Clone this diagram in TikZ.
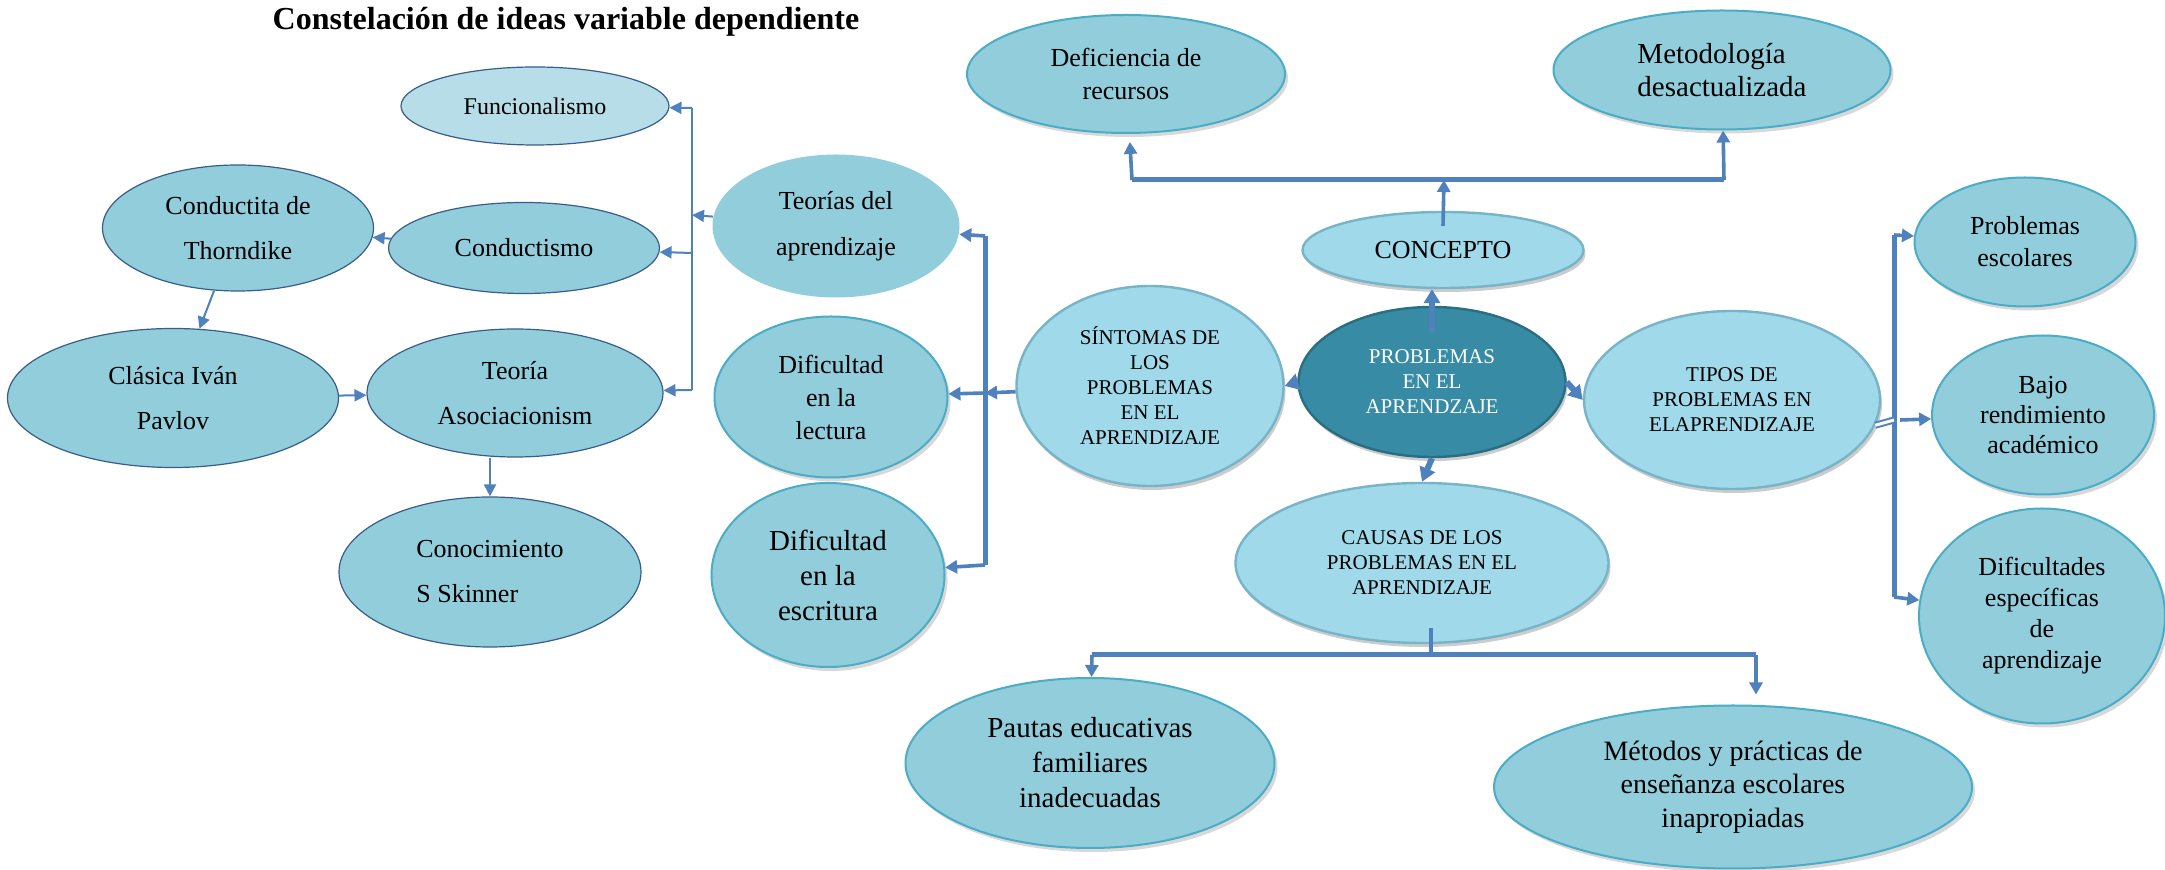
\documentclass[tikz,border=0pt]{standalone}
\usepackage{fontspec}
\setmainfont{Liberation Serif}
\usetikzlibrary{shapes.geometric, arrows.meta, calc, shadows}

\definecolor{linkblue}{HTML}{4F81BD}
\definecolor{aqua}{HTML}{92CDDC}
\definecolor{aqualight}{HTML}{B7DEE8}
\definecolor{aquaedge}{HTML}{4BACC6}
\definecolor{navyedge}{HTML}{385D8A}
\definecolor{bubble}{HTML}{A0D9EA}
\definecolor{bubbledark}{HTML}{78B4C8}
\definecolor{coreteal}{HTML}{378BA4}
\definecolor{coredark}{HTML}{2A6E82}

\tikzset{
    leftnode/.style={ellipse, draw=navyedge, line width=0.6pt, fill=aqua, inner sep=0pt, align=center, font=\fontsize{13}{22.5}\selectfont},
    rightnode/.style={ellipse, draw=aquaedge, line width=1pt, fill=aqua, inner sep=0pt, align=center, font=\fontsize{13}{16.5}\selectfont, drop shadow={opacity=0.3, shadow xshift=1.5pt, shadow yshift=-2pt}},
    bubblenode/.style={ellipse, draw=bubbledark, line width=1.2pt, fill=bubble, inner sep=0pt, align=center, font=\fontsize{10.5}{12.5}\selectfont, drop shadow={opacity=0.4, shadow xshift=1pt, shadow yshift=-2pt}},
    corenode/.style={ellipse, draw=coredark, line width=1.2pt, fill=coreteal, text=white, inner sep=0pt, align=center, font=\fontsize{10.5}{12.5}\selectfont, drop shadow={opacity=0.4, shadow xshift=1pt, shadow yshift=-2pt}},
    thinline/.style={draw=linkblue, line width=1pt},
    thinarr/.style={thinline, -{Triangle[length=6pt, width=6pt]}},
    fatline/.style={draw=linkblue, line width=2.5pt},
    midline/.style={draw=linkblue, line width=1.8pt},
    midarr/.style={midline, -{Triangle[length=6pt, width=6.5pt]}},
    corearr/.style={draw=linkblue, line width=3pt, -{Triangle[length=7pt, width=8pt]}},
    doubleline/.style={draw=linkblue, double=white, double distance=1.5pt, line width=1pt}
}

\begin{document}
\begin{tikzpicture}[x=0.5pt, y=-0.5pt]
    \useasboundingbox (0,0) rectangle (2165,870);
    \fill [white] (0,0) rectangle (2165,870);

    \node [font=\bfseries\fontsize{16}{19}\selectfont] (Titulo) at (566,22) {Constelación de ideas variable dependiente};

    \node [leftnode, fill=aqualight, minimum width=134pt, minimum height=39pt, font=\fontsize{12}{14}\selectfont] (Funcionalismo) at (535,106) {Funcionalismo};
    \node [leftnode, minimum width=135.5pt, minimum height=63pt] (Conductita) at (238,228) {Conductita de\\Thorndike};
    \node [leftnode, minimum width=135.5pt, minimum height=45.5pt] (Conductismo) at (524,248) {Conductismo};
    \node [leftnode, draw=none, minimum width=123.5pt, minimum height=71.5pt, font=\fontsize{13}{23}\selectfont] (Teorias) at (836,226) {Teorías del\\aprendizaje};
    \node [leftnode, minimum width=165.5pt, minimum height=69.5pt] (Pavlov) at (173,398) {Clásica Iván\\Pavlov};
    \node [leftnode, minimum width=148pt, minimum height=64pt] (Teoria) at (515,393) {Teoría\\Asociacionism};
    \node [leftnode, minimum width=151pt, minimum height=75pt, align=left] (Conocimiento) at (490,572) {Conocimiento\\S Skinner};

    \node [rightnode, minimum width=116.5pt, minimum height=80.5pt] (Lectura) at (831,397) {Dificultad\\en la\\lectura};
    \node [rightnode, minimum width=116.5pt, minimum height=92pt, font=\fontsize{14.5}{17.5}\selectfont] (Escritura) at (828,575) {Dificultad\\en la\\escritura};

    \node [rightnode, minimum width=159pt, minimum height=59pt] (Deficiencia) at (1126,74) {Deficiencia de\\recursos};
    \node [rightnode, minimum width=168.5pt, minimum height=59.5pt, align=left, font=\fontsize{14.5}{16.5}\selectfont] (Metodologia) at (1722,70) {Metodología\\desactualizada};

    \node [bubblenode, minimum width=140.5pt, minimum height=38pt, font=\fontsize{13}{15}\selectfont] (Concepto) at (1443,250) {CONCEPTO};
    \node [bubblenode, minimum width=133.5pt, minimum height=100pt] (Sintomas) at (1150,386) {SÍNTOMAS DE\\LOS\\PROBLEMAS\\EN EL\\APRENDIZAJE};
    \node [corenode, minimum width=133.5pt, minimum height=75pt] (Problemas) at (1432,382) {PROBLEMAS\\EN EL\\APRENDZAJE};
    \node [bubblenode, minimum width=148pt, minimum height=89pt] (Tipos) at (1732,400) {TIPOS DE\\PROBLEMAS EN\\ELAPRENDIZAJE};
    \node [bubblenode, minimum width=186.5pt, minimum height=80pt] (Causas) at (1422,563) {CAUSAS DE LOS\\PROBLEMAS EN EL\\APRENDIZAJE};

    \node [rightnode, minimum width=110.5pt, minimum height=64.5pt, font=\fontsize{13}{16}\selectfont] (Escolares) at (2025,242) {Problemas\\escolares};
    \node [rightnode, minimum width=111pt, minimum height=79.5pt, font=\fontsize{13}{15}\selectfont] (Bajo) at (2043,415) {Bajo\\rendimiento\\académico};
    \node [rightnode, minimum width=123pt, minimum height=107.5pt, font=\fontsize{13}{15.5}\selectfont] (Especificas) at (2042,616) {Dificultades\\específicas\\de\\aprendizaje};

    \node [rightnode, minimum width=184.5pt, minimum height=85pt, font=\fontsize{14.5}{17.5}\selectfont] (Pautas) at (1090,763) {Pautas educativas\\familiares\\inadecuadas};
    \node [rightnode, minimum width=239pt, minimum height=81.5pt, font=\fontsize{14}{16.7}\selectfont] (Metodos) at (1733,787) {Métodos y prácticas de\\enseñanza escolares\\inapropiadas};

    \coordinate (LV1) at (692,108);
    \coordinate (LVT) at (692,215);
    \coordinate (LVC) at (692,253);
    \coordinate (LV2) at (692,390);
    \draw [thinline] (LV1) -- (LV2);
    \draw [thinarr] (LV1) -- (Funcionalismo);
    \draw [thinarr] (Teorias) -- (LVT);
    \draw [thinarr] (LVC) -- (Conductismo);
    \draw [thinarr] (LV2) -- (Teoria);
        \draw [thinarr] (Conductismo) -- (Conductita);
        \draw [thinarr] (Conductita) -- (Pavlov);
        \draw [thinarr] (Pavlov) -- (Teoria);
        \draw [thinarr] (Teoria.south -| Conocimiento.north) -- (Conocimiento.north);

    \coordinate (TV1) at (985,236);
    \coordinate (TVL) at (985,393);
    \coordinate (TV2) at (985,565);
    \draw [fatline] (TV1) -- (TV2);
    \draw [midarr] (TV1) -- (Teorias);
    \draw [midarr] (TVL) -- (Lectura);
    \draw [midarr] (TV2) -- (Escritura);
    \draw [midarr] (Sintomas) -- (TVL);

    \coordinate (CB1) at (1132,180);
    \coordinate (CBM) at (1444,180);
    \coordinate (CB2) at (1724,180);
    \draw [fatline] (CB1) -- (CB2);
    \draw [midarr] ($(Concepto.north)+(0,15)$) -- (CBM);
        \draw [midarr, shorten >=4pt] (CB1) -- (Deficiencia);
        \draw [midarr] (CB2) -- (Metodologia);

    \draw [corearr] ($(Problemas.north)+(0,26)$) -- (Problemas.north |- Concepto.south);
    \draw [corearr] (Problemas.west) -- (Sintomas.east);
    \draw [corearr] (Problemas.east) -- (Tipos.west);
    \draw [corearr] (Problemas.south) -- (Causas.north);

    \coordinate (TR1) at (1894,235);
    \coordinate (TRB) at (1900,420);
    \coordinate (TR2) at (1894,597);
    \draw [fatline] (TR1) -- (TR2);
    \draw [doubleline] (Tipos.-10) -- (TR1 |- TRB);
        \draw [midarr] (TR1) -- (Escolares);
        \draw [midarr] (TRB) -- (Bajo);
        \draw [midarr] (TR2) -- (Especificas);

    \coordinate (BB1) at (1092,655);
    \coordinate (BBM) at (1431,655);
    \coordinate (BB2) at (1756,655);
    \draw [fatline] (BB1) -- (BB2);
    \draw [midline] ($(Causas.south)+(9,-16)$) -- (BBM);
        \draw [midarr] (BB1) -- (Pautas);
        \draw [midarr, shorten >=5pt] (BB2) -- (BB2 |- Metodos.north);
\end{tikzpicture}
\end{document}
